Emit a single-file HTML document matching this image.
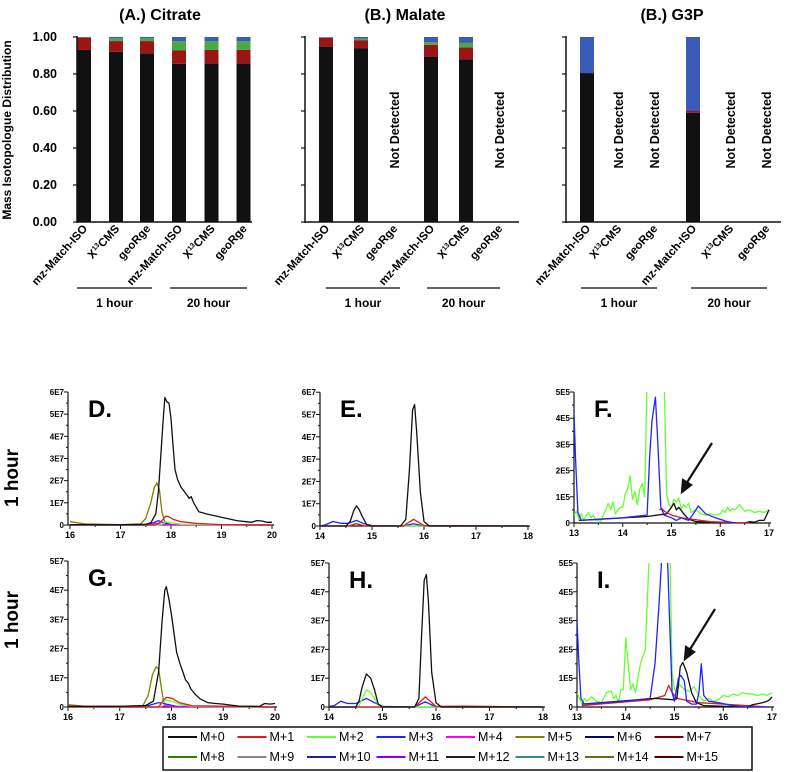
<!DOCTYPE html>
<html><head><meta charset="utf-8">
<style>
html,body{margin:0;padding:0;background:#fff;}
svg{display:block;font-family:"Liberation Sans",Arial,sans-serif;}
</style></head>
<body>
<svg id="fig" width="789" height="772" viewBox="0 0 789 772" xmlns="http://www.w3.org/2000/svg">
<defs>
<clipPath id="clipF"><rect x="574" y="392" width="200" height="135"/></clipPath>
<clipPath id="clipI"><rect x="577" y="563" width="200" height="147"/></clipPath>
</defs>
<g id="bars"></g>
<g id="chroms"></g>
<text x="18" y="478" transform="rotate(-90 18 478)" text-anchor="middle" font-size="19" font-weight="bold">1 hour</text>
<text x="18" y="620" transform="rotate(-90 18 620)" text-anchor="middle" font-size="19" font-weight="bold">1 hour</text>
<g stroke="#111" stroke-width="2.2" fill="#111">
<line x1="712" y1="443" x2="686" y2="484"/><polygon points="682,492 683,480 691,485"/></g>
<g stroke="#111" stroke-width="2.2" fill="#111">
<line x1="715" y1="609" x2="689" y2="651"/><polygon points="685,659 686,647 694,652"/></g>
<g id="legend"></g>
</svg>
<script>
// ---------- bar chart data ----------
const barCats = ["mz-Match-ISO","X13CMS","geoRge","mz-Match-ISO","X13CMS","geoRge"];
const citM0 = [0.93,0.92,0.912,0.855,0.858,0.858];
const citM1 = [0.067,0.058,0.066,0.072,0.072,0.073];
const citM2 = [0.002,0.015,0.015,0.05,0.048,0.046];
const citM3 = [0.001,0.007,0.007,0.023,0.022,0.023];
const malM0 = [0.948,0.94,null,0.892,0.88,null];
const malM1 = [0.048,0.043,null,0.065,0.063,null];
const malM2 = [0.002,0.007,null,0.015,0.025,null];
const malM3 = [0.002,0.01,null,0.028,0.032,null];
const g3pM0 = [0.805,null,null,0.59,null,null];
const g3pM1 = [0,null,null,0.01,null,null];
const g3pM2 = [0,null,null,0,null,null];
const g3pM3 = [0.195,null,null,0.40,null,null];
const yTickLabels = ["0.00","0.20","0.40","0.60","0.80","1.00"];
const yTickValues = [0,0.2,0.4,0.6,0.8,1.0];

const NS="http://www.w3.org/2000/svg";
function mk(tag,attrs,parent){const e=document.createElementNS(NS,tag);for(const k in attrs)e.setAttribute(k,attrs[k]);parent.appendChild(e);return e;}

const barColors=["#111111","#9b1515","#4aa845","#3a5cb8"];
const barY=v=>222-v*185;
const barsG=document.getElementById('bars');
const barPanels=[
 {title:"(A.) Citrate",tx:160,axis:77,end:252,centers:[84,116,147,179,211.5,243.5],data:[citM0,citM1,citM2,citM3],labels:true,br:[[77,152],[170,247]]},
 {title:"(B.) Malate",tx:405,axis:305,end:519,centers:[326,361,394,431,466,499],data:[malM0,malM1,malM2,malM3],labels:false,br:[[326,400],[427,500]]},
 {title:"(B.) G3P",tx:672,axis:566,end:781,centers:[587,618,654,693,730,766],data:[g3pM0,g3pM1,g3pM2,g3pM3],labels:false,br:[[581,657],[691,767]]}
];
barPanels.forEach((p,pi)=>{
  const g=mk('g',{},barsG);
  
  
  const t=mk('text',{x:p.tx,y:20,'text-anchor':'middle','font-size':16,'font-weight':'bold'},g);t.textContent=p.title;
  
  
  // bars
  barCats.forEach((c,i)=>{
    if(p.data[0][i]===null){
      const nd=mk('text',{x:p.centers[i]+5,y:130,transform:`rotate(-90 ${p.centers[i]+5} 130)`,'text-anchor':'middle','font-size':12.5,'font-weight':'bold'},g);
      nd.textContent="Not Detected";
      
      
      return;
    }
    let cum=0;
    p.data.forEach((s,si)=>{
      const v=s[i]; if(!v) {return;}
      const r=mk('rect',{x:p.centers[i]-7,y:barY(cum+v),width:14,height:v*185,fill:barColors[si]},g);
      
      
      cum+=v;
    });
  });
  // x labels
  barCats.forEach((c,i)=>{
    const x=p.centers[i]+4,y=229;
    const tx=mk('text',{x:x,y:y,transform:`rotate(-48 ${x} ${y})`,'text-anchor':'end','font-size':11.5,'font-weight':'bold'},g);
    if(c==="X13CMS"){tx.innerHTML='X<tspan font-size="7" dy="-4">13</tspan><tspan dy="4">CMS</tspan>';}
    else tx.textContent=c;
    
    
  });
  // axes
  mk('line',{x1:p.axis,y1:36,x2:p.axis,y2:223,stroke:'#111','stroke-width':1.5},g);
  mk('line',{x1:p.axis,y1:222,x2:p.end,y2:222,stroke:'#111','stroke-width':1.5},g);
  yTickValues.forEach((v,i)=>{
    mk('line',{x1:p.axis-4,y1:barY(v),x2:p.axis,y2:barY(v),stroke:'#111','stroke-width':1.2},g);
    if(p.labels){const tl=mk('text',{x:p.axis-20,y:barY(v)+4,'text-anchor':'end','font-size':12.5,'font-weight':'bold'},g);tl.textContent=yTickLabels[i];
      
      }
  });
  const hrs=["1 hour","20 hour"];
  p.br.forEach((b,bi)=>{
    mk('line',{x1:b[0],y1:288,x2:b[1],y2:288,stroke:'#333','stroke-width':1.5},g);
    const h=mk('text',{x:(b[0]+b[1])/2,y:307,'text-anchor':'middle','font-size':12,'font-weight':'bold'},g);h.textContent=hrs[bi];
    
    
  });
});
const yl=mk('text',{x:11,y:130,transform:'rotate(-90 11 130)','text-anchor':'middle','font-size':12,'font-weight':'bold'},barsG);
yl.textContent="Mass Isotopologue Distribution";



// ---------- chromatogram data ----------
const dT0=[16,17,17.5,17.6,17.7,17.75,17.8,17.85,17.88,17.92,17.96,18.0,18.04,18.08,18.13,18.2,18.3,18.36,18.4,18.45,18.55,18.7,19.0,19.3,19.6,19.7,19.8,19.9,20];
const dV0=[0.02,0.01,0.03,0.1,0.5,1.5,3.2,4.9,5.75,5.55,5.5,4.8,3.6,2.5,2.05,1.7,1.4,1.2,1.28,1.0,0.6,0.5,0.35,0.2,0.12,0.2,0.18,0.12,0.12];
const dT5=[16,16.3,17,17.4,17.5,17.6,17.67,17.72,17.77,17.82,17.88,18.0,20];
const dV5=[0.15,0.05,0.02,0.05,0.3,1.0,1.7,1.9,1.6,0.6,0.1,0.02,0];
const dT1=[16,17.7,17.8,17.9,17.95,18.05,18.2,18.5,19,20];
const dV1=[0,0,0.15,0.4,0.38,0.25,0.15,0.07,0.02,0];
const dT3=[16,17.5,17.65,17.75,17.85,18,20];
const dV3=[0,0,0.1,0.2,0.1,0.02,0];
const dT2=[16,17.8,17.9,18,18.2,20];
const dV2=[0,0,0.15,0.1,0.03,0];
const dT4=[16,17.6,17.7,17.8,18,20];
const dV4=[0,0,0.08,0.03,0,0];

const eT0=[14,14.5,14.58,14.65,14.7,14.75,14.82,14.9,15.0,15.55,15.65,15.72,15.78,15.82,15.86,15.93,16.0,16.1,18];
const eV0=[0,0,0.2,0.7,0.9,0.75,0.4,0.05,0,0,0.3,2.5,5.2,5.45,4.2,1.5,0.2,0,0];
const eT3=[14,14.1,14.25,14.4,14.55,14.7,14.85,15.0,15.6,15.8,16.0,16.2,18];
const eV3=[0,0.05,0.2,0.12,0.12,0.25,0.1,0.02,0,0.1,0,0,0];
const eT2=[14,14.55,14.7,14.85,15,18];
const eV2=[0,0,0.12,0.02,0,0];
const eT1=[14,14.55,14.7,14.85,15.6,15.8,16,16.5,18];
const eV1=[0,0,0.1,0,0,0.3,0.02,0.02,0];

const gT0=[16,17,17.5,17.65,17.75,17.82,17.87,17.9,17.95,18.0,18.05,18.1,18.17,18.22,18.27,18.33,18.37,18.45,18.55,18.7,18.85,19.0,19.3,19.7,19.8,19.9,20];
const gV0=[0.02,0.02,0.05,0.2,1.2,3.0,4.0,4.12,3.7,3.15,2.5,1.86,1.45,1.2,0.93,0.8,0.63,0.45,0.28,0.15,0.12,0.1,0.03,0.02,0.12,0.1,0.12];
const gT5=[16,16.3,17,17.45,17.55,17.63,17.7,17.75,17.8,17.85,17.95,20];
const gV5=[0.08,0.03,0.02,0.05,0.4,1.1,1.38,1.3,0.7,0.15,0.02,0];
const gT1=[16,17.75,17.85,17.9,18,18.15,18.4,20];
const gV1=[0,0,0.25,0.33,0.3,0.15,0.04,0];
const gT2=[16,17.75,17.85,17.9,18,18.15,18.4,20];
const gV2=[0,0,0.18,0.25,0.2,0.1,0.02,0];
const gT3=[16,17.5,17.65,17.75,17.9,18.1,20];
const gV3=[0.02,0.02,0.1,0.15,0.1,0.02,0];
const gT4=[16,17.8,17.9,18,20];
const gV4=[0,0,0.07,0,0];

const hT0=[14,14.5,14.56,14.62,14.7,14.78,14.85,14.92,15.0,15.6,15.68,15.73,15.78,15.82,15.86,15.92,16.0,16.1,18];
const hV0=[0,0,0.2,0.7,1.15,1.0,0.6,0.1,0,0,0.3,2.5,4.4,4.6,3.6,1.2,0.15,0,0];
const hT3=[14,14.1,14.22,14.35,14.5,14.7,14.85,15.0,15.6,15.8,16.0,18];
const hV3=[0.02,0.05,0.2,0.12,0.12,0.3,0.15,0.02,0,0.18,0,0];
const hT2=[14,14.55,14.7,14.78,14.95,18];
const hV2=[0,0,0.6,0.5,0,0];
const hT1=[14,15.6,15.8,16,16.5,18];
const hV1=[0,0,0.35,0.02,0.03,0];

const fT2=[13,13.05,13.1,13.15,13.2,13.25,13.3,13.35,13.4,13.45,13.5,13.55,13.6,13.65,13.7,13.75,13.8,13.85,13.9,13.95,14.0,14.05,14.1,14.15,14.2,14.25,14.3,14.35,14.4,14.45,14.5,14.55,14.8,14.85,14.9,14.95,15.0,15.05,15.1,15.15,15.2,15.25,15.3,15.35,15.4,15.5,15.6,15.7,15.8,15.9,16.0,16.05,16.1,16.15,16.2,16.25,16.3,16.35,16.4,16.5,16.6,16.7,16.8,16.9,17];
const fV2=[0.3,0.45,0.15,0.35,0.1,0.3,0.4,0.2,0.3,0.1,0.1,0.05,0.3,0.5,0.75,0.5,0.8,0.35,0.5,0.6,0.6,1.1,1.3,1.8,0.9,1.2,0.7,1.3,1.5,1.0,5.5,6,6,5.5,1.1,0.7,0.6,0.9,0.8,0.95,0.55,0.7,0.6,0.75,0.4,0.5,0.35,0.3,0.35,0.3,0.35,0.5,0.4,0.6,0.45,0.55,0.5,0.6,0.7,0.45,0.5,0.4,0.45,0.4,0.5];
const fT3=[13,13.03,13.08,13.15,14.0,14.5,14.55,14.6,14.67,14.72,14.78,14.85,15.0,15.1,15.2,15.35,15.45,15.55,15.7,15.9,16.15,16.3];
const fV3=[4.2,2.5,0.4,0.1,0.2,0.3,2.5,3.9,4.8,3.0,0.6,0.3,0.2,0.1,0.2,0.1,0.35,0.65,0.35,0.2,0.05,0];
const fT0=[13.1,14.5,14.9,15.0,15.05,15.1,15.15,15.25,15.35,15.5,16.5,16.6,16.7,16.8,16.9,16.95,17];
const fV0=[0.1,0.25,0.35,0.6,0.75,0.5,0.6,0.35,0.15,0.05,0,0.05,0.03,0.1,0.1,0.3,0.5];
const fT1=[14.75,14.8,14.85,15.0,15.2,15.4,15.8,16.2,16.6];
const fV1=[0.5,0.55,0.45,0.3,0.2,0.15,0.05,0.02,0];

const iT2=[13,13.05,13.1,13.15,13.2,13.3,13.4,13.5,13.6,13.7,13.75,13.8,13.85,13.9,13.95,14.0,14.05,14.1,14.15,14.2,14.25,14.3,14.4,14.5,14.55,14.9,14.95,15.0,15.05,15.1,15.2,15.3,15.4,15.5,15.6,15.7,15.8,15.9,16.0,16.1,16.2,16.3,16.4,16.5,16.6,16.7,16.8,16.9,17];
const iV2=[0.5,0.3,0.1,0.3,0.2,0.35,0.2,0.15,0.5,0.55,0.3,0.4,0.15,0.6,0.6,2.4,1.5,0.6,0.8,0.5,1.0,1.5,2.0,6,6,6,1.2,0.6,0.5,0.8,0.6,0.55,0.7,0.4,0.2,0.3,0.2,0.25,0.4,0.35,0.45,0.4,0.5,0.45,0.45,0.4,0.45,0.4,0.5];
const iT3=[13,13.03,13.08,13.15,14.0,14.5,14.6,14.68,14.75,14.8,14.85,14.9,14.95,15.0,15.08,15.13,15.2,15.25,15.35,15.45,15.5,15.55,15.6,15.7,15.9,16.2,16.5,16.9];
const iV3=[3.0,1.8,0.3,0.1,0.2,0.3,1.5,3.5,5.5,6,5.5,3,0.5,0.2,1.0,1.1,0.9,0.2,0.1,0.1,0.5,1.5,0.4,0.2,0.15,0.05,0,0];
const iT0=[13.1,14.6,15.0,15.05,15.12,15.17,15.25,15.35,15.45,15.6,16.5,16.6,16.8,16.9,16.95,17];
const iV0=[0.1,0.3,0.25,0.3,1.4,1.55,1.2,0.5,0.15,0.05,0,0.08,0.15,0.2,0.25,0.35];
const iT1=[13.1,14.5,14.8,14.88,14.95,15.05,15.5,16.0,16.5,16.9];
const iV1=[0.05,0.25,0.4,0.75,0.5,0.3,0.15,0.1,0.05,0];

const LC={m0:"#111111",m1:"#e01b1b",m2:"#66ff33",m3:"#2222ff",m4:"#ff00ff",m5:"#808000"};

const chromG=document.getElementById('chroms');
const panels=[
 {id:"D",x0:68,px0:70,t0:16,t1:20,pxPerT:50.5,y0:525,pxPerU:22.17,ymax:6,exp:"E7",series:[[dT5,dV5,'m5'],[dT3,dV3,'m3'],[dT4,dV4,'m4'],[dT2,dV2,'m2'],[dT1,dV1,'m1'],[dT0,dV0,'m0']]},
 {id:"E",x0:320,px0:320,t0:14,t1:18,pxPerT:52,y0:526,pxPerU:22.3,ymax:6,exp:"E7",series:[[eT3,eV3,'m3'],[eT2,eV2,'m2'],[eT1,eV1,'m1'],[eT0,eV0,'m0']]},
 {id:"F",x0:574,px0:574,t0:13,t1:17,pxPerT:48.75,y0:523,pxPerU:26.2,ymax:5,exp:"E5",clip:"clipF",series:[[fT2,fV2,'m2'],[fT0,fV0,'m0'],[fT1,fV1,'m1'],[fT3,fV3,'m3']]},
 {id:"G",x0:68,px0:68,t0:16,t1:20,pxPerT:51.75,y0:707,pxPerU:29.2,ymax:5,exp:"E7",series:[[gT5,gV5,'m5'],[gT3,gV3,'m3'],[gT4,gV4,'m4'],[gT2,gV2,'m2'],[gT1,gV1,'m1'],[gT0,gV0,'m0']]},
 {id:"H",x0:329,px0:329,t0:14,t1:18,pxPerT:53.5,y0:707,pxPerU:28.8,ymax:5,exp:"E7",series:[[hT3,hV3,'m3'],[hT2,hV2,'m2'],[hT1,hV1,'m1'],[hT0,hV0,'m0']]},
 {id:"I",x0:577,px0:577,t0:13,t1:17,pxPerT:48.75,y0:707,pxPerU:28.8,ymax:5,exp:"E5",clip:"clipI",series:[[iT2,iV2,'m2'],[iT1,iV1,'m1'],[iT0,iV0,'m0'],[iT3,iV3,'m3']]}
];
panels.forEach(p=>{
  const g=mk('g',{},chromG);
  
  
  const X=t=>p.px0+(t-p.t0)*p.pxPerT, Y=v=>p.y0-v*p.pxPerU;
  const xEnd=X(p.t1)+2, yTop=Y(p.ymax);
  mk('line',{x1:p.x0,y1:yTop,x2:p.x0,y2:p.y0,stroke:'#111','stroke-width':1.2},g);
  mk('line',{x1:p.x0,y1:p.y0,x2:xEnd,y2:p.y0,stroke:'#111','stroke-width':1.2},g);
  for(let v=0;v<=p.ymax;v+=0.5){
    const maj=Number.isInteger(v);
    mk('line',{x1:p.x0-(maj?4:2),y1:Y(v),x2:p.x0,y2:Y(v),stroke:'#111','stroke-width':1},g);
    if(maj){const tl=mk('text',{x:p.x0-4,y:Y(v)+3,'text-anchor':'end','font-size':8,'font-weight':'bold'},g);tl.textContent=v===0?"0":v+p.exp;
      
      }
  }
  for(let t=p.t0;t<=p.t1;t+=0.5){
    const maj=Number.isInteger(t);
    mk('line',{x1:X(t),y1:p.y0,x2:X(t),y2:p.y0+(maj?4:2),stroke:'#111','stroke-width':1},g);
    if(maj){const tl=mk('text',{x:X(t),y:p.y0+13,'text-anchor':'middle','font-size':9,'font-weight':'bold'},g);tl.textContent=t;
      
      }
  }
  const lg=mk('g',p.clip?{'clip-path':`url(#${p.clip})`}:{},g);
  p.series.forEach(s=>{
    const d=s[0].map((t,i)=>(i?'L':'M')+X(t).toFixed(1)+','+Y(s[1][i]).toFixed(1)).join(' ');
    const path=mk('path',{d:d,fill:'none',stroke:LC[s[2]],'stroke-width':1.3,'stroke-linejoin':'round'},lg);
    
    
  });
  const lt=mk('text',{x:p.x0+20,y:Y(p.ymax)+25,'font-size':24,'font-weight':'bold'},g);
  lt.textContent=p.id+".";
  
  
});

// ---------- legend ----------
const legNames=["M+0","M+1","M+2","M+3","M+4","M+5","M+6","M+7","M+8","M+9","M+10","M+11","M+12","M+13","M+14","M+15"];
const legColors=["#111111","#e01b1b","#66ff33","#2222ff","#ff00ff","#808000","#000080","#800000","#338000","#888888","#2020a0","#8000ff","#222222","#3a8a8a","#6b6b1f","#500000"];
const legG=document.getElementById('legend');
mk('rect',{x:163,y:727,width:589,height:43,fill:'none',stroke:'#111','stroke-width':1.5},legG);
legNames.forEach((n,i)=>{
  const r=Math.floor(i/8),c=i%8;
  const x=168+c*69.5,y=741+r*20;
  const it=mk('g',{},legG);
  
  
  mk('line',{x1:x,y1:y-4,x2:x+29,y2:y-4,stroke:legColors[i],'stroke-width':2},it);
  const t=mk('text',{x:x+32,y:y,'font-size':12.5},it);t.textContent=n;
});
</script>
</body></html>
